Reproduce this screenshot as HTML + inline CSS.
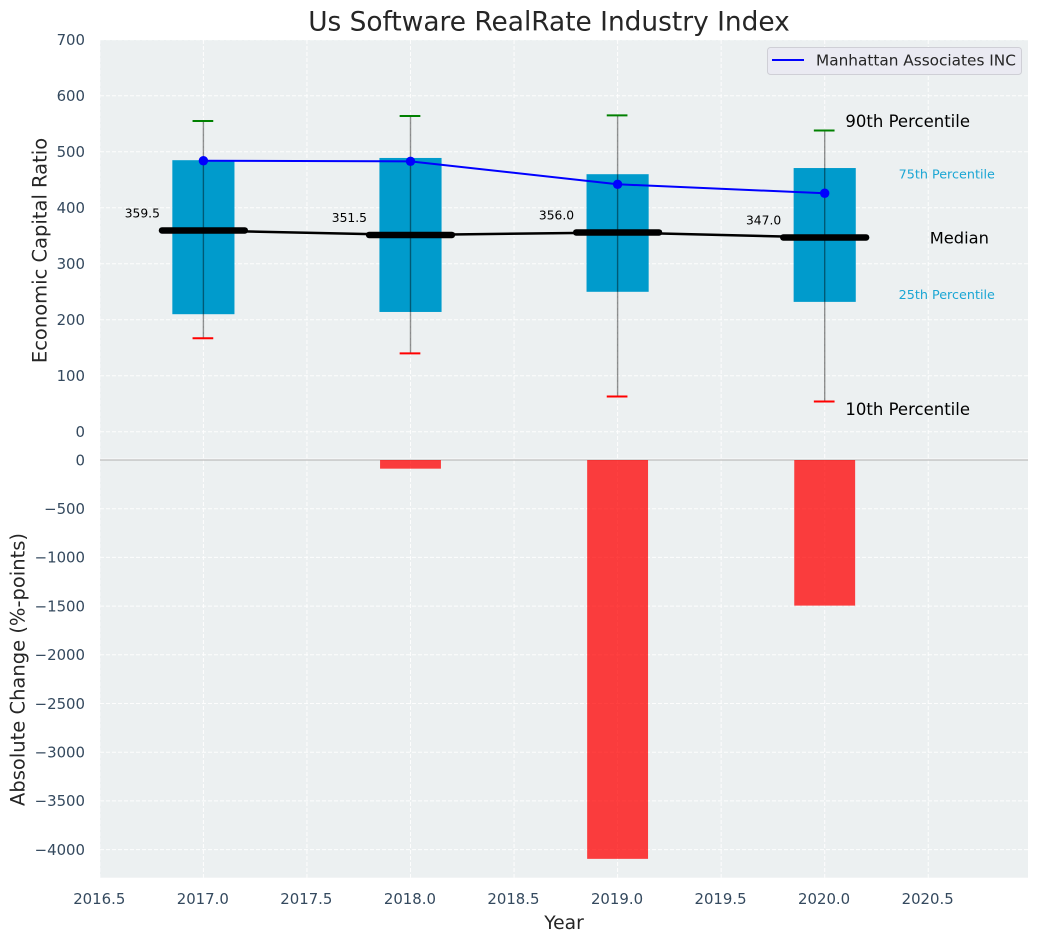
<!DOCTYPE html>
<html lang="en">
<head>
<meta charset="utf-8">
<title>Us Software RealRate Industry Index</title>
<style>
html,body{margin:0;padding:0;background:#fff;width:1039px;height:942px;overflow:hidden}
svg{display:block;font-family:"DejaVu Sans","Liberation Sans",sans-serif}
</style>
</head>
<body>
<svg id="chart" xmlns="http://www.w3.org/2000/svg" width="1039" height="942" viewBox="0 0 1039 942"></svg>
<script>
const years = [2017, 2018, 2019, 2020];
const p90 = [555, 564, 565, 538];
const p75 = [485, 489, 460, 471];
const medians = [359.5, 351.5, 356.0, 347.0];
const p25 = [210, 214, 250, 232];
const p10 = [167, 140, 63, 54];
const company = [484, 483, 442, 426];
const changes = [0, -89, -4095, -1495];
const xTicks = [2016.5, 2017, 2017.5, 2018, 2018.5, 2019, 2019.5, 2020, 2020.5];
const topTicks = [0, 100, 200, 300, 400, 500, 600, 700];
const bottomTicks = [0, -500, -1000, -1500, -2000, -2500, -3000, -3500, -4000];

const NS = 'http://www.w3.org/2000/svg';
const svg = document.getElementById('chart');
const x = v => 203.4 + (v - 2017) * 207.1;
const yTop = v => 431.8 - v * 0.56;
const yBot = v => 460 - v * 0.0974;
const L = 100, R = 1028, T = 40, B = 877.7;

function mk(tag, attrs, text) {
  const e = document.createElementNS(NS, tag);
  for (const k in attrs) e.setAttribute(k, attrs[k]);
  if (text !== undefined) e.textContent = text;
  svg.appendChild(e);
  return e;
}
const tickText = v => String(v).replace('-', '\u2212');
let el;

el = mk('rect', {x: L, y: T, width: R - L, height: B - T, fill: '#ecf0f1'});



xTicks.forEach(v => {
  el = mk('line', {x1: x(v), x2: x(v), y1: T, y2: B, stroke: '#fff', 'stroke-width': 1, 'stroke-dasharray': '4 2', opacity: 0.9});
  
  
  el = mk('text', {x: x(v) - 0.6, y: 904, 'text-anchor': 'middle', 'font-size': 14.9, fill: '#34495e'}, v.toFixed(1));
  
  
});
topTicks.forEach(v => {
  el = mk('line', {x1: L, x2: R, y1: yTop(v), y2: yTop(v), stroke: '#fff', 'stroke-width': 1, 'stroke-dasharray': '4 2', opacity: 0.9});
  
  
  el = mk('text', {x: 85, y: yTop(v) + 5.3, 'text-anchor': 'end', 'font-size': 14.9, fill: '#34495e'}, tickText(v));
  
  
});
bottomTicks.forEach(v => {
  el = mk('line', {x1: L, x2: R, y1: yBot(v), y2: yBot(v), stroke: '#fff', 'stroke-width': 1, 'stroke-dasharray': v === 0 ? 'none' : '4 2', opacity: 0.9, transform: v === 0 ? 'translate(0,-1)' : ''});
  
  
  el = mk('text', {x: 85, y: yBot(v) + 5.3, 'text-anchor': 'end', 'font-size': 14.9, fill: '#34495e'}, tickText(v));
  
  
});

years.forEach((yr, i) => {
  el = mk('rect', {x: x(yr - 0.15), y: yTop(p75[i]), width: x(yr + 0.15) - x(yr - 0.15), height: yTop(p25[i]) - yTop(p75[i]), fill: '#009bcc'});
  
  
  el = mk('line', {x1: x(yr), x2: x(yr), y1: yTop(p90[i]), y2: yTop(p10[i]), stroke: '#000', 'stroke-width': 1.4, opacity: 0.42});
  
  
  el = mk('line', {x1: x(yr - 0.05) - 0.5, x2: x(yr + 0.05) - 0.5, y1: yTop(p90[i]), y2: yTop(p90[i]), stroke: '#008000', 'stroke-width': 2});
  
  
  el = mk('line', {x1: x(yr - 0.05) - 0.5, x2: x(yr + 0.05) - 0.5, y1: yTop(p10[i]), y2: yTop(p10[i]), stroke: '#ff0000', 'stroke-width': 2});
  
  
});

el = mk('polyline', {points: years.map((yr, i) => x(yr) + ',' + yTop(medians[i])).join(' '), fill: 'none', stroke: '#000', 'stroke-width': 2.5});



years.forEach((yr, i) => {
  el = mk('line', {x1: x(yr - 0.2), x2: x(yr + 0.2), y1: yTop(medians[i]), y2: yTop(medians[i]), stroke: '#000', 'stroke-width': 6.5, 'stroke-linecap': 'round'});
  
  
  el = mk('text', {x: x(yr - 0.21), y: yTop(medians[i] + 30) + 4, 'text-anchor': 'end', 'font-size': 12.3, fill: '#000'}, medians[i].toFixed(1));
  
  
});

el = mk('polyline', {points: years.map((yr, i) => x(yr) + ',' + yTop(company[i])).join(' '), fill: 'none', stroke: '#0000ff', 'stroke-width': 2});


years.forEach((yr, i) => {
  el = mk('circle', {cx: x(yr), cy: yTop(company[i]), r: 4.7, fill: '#0000ff'});
  
  
});

el = mk('line', {x1: L, x2: R, y1: 460, y2: 460, stroke: '#bdbdbd', 'stroke-width': 1.2});



years.forEach((yr, i) => {
  if (changes[i] === 0) return;
  el = mk('rect', {x: x(yr - 0.147), y: yBot(0), width: x(yr + 0.147) - x(yr - 0.147), height: yBot(changes[i]) - yBot(0), fill: '#ff0000', opacity: 0.75});
  
  
});

const lastYear = years.length - 1;
el = mk('text', {x: x(2020.1), y: yTop(p90[lastYear] + 17) + 6, 'font-size': 16.5, fill: '#000'}, '90th Percentile');


el = mk('text', {x: x(2020.357), y: yTop(p75[lastYear] - 11) + 4.5, 'font-size': 12.75, fill: '#1ba6d4'}, '75th Percentile');


el = mk('text', {x: x(2020.507), y: yTop(medians[lastYear]) + 6, 'font-size': 16.3, fill: '#000'}, 'Median');


el = mk('text', {x: x(2020.357), y: yTop(p25[lastYear] + 13) + 4.5, 'font-size': 12.75, fill: '#1ba6d4'}, '25th Percentile');


el = mk('text', {x: x(2020.1), y: yTop(p10[lastYear] - 13) + 6, 'font-size': 16.5, fill: '#000'}, '10th Percentile');



el = mk('rect', {x: 767.5, y: 47.5, width: 254, height: 27, rx: 3, fill: '#eaeaf2', stroke: '#cfcfd6', 'stroke-width': 1});


el = mk('line', {x1: 772, x2: 804, y1: 60, y2: 60, stroke: '#0000ff', 'stroke-width': 2});


el = mk('text', {x: 816, y: 65.7, 'font-size': 15.3, fill: '#262626'}, 'Manhattan Associates INC');



el = mk('text', {x: 549, y: 30.3, 'text-anchor': 'middle', 'font-size': 26.4, fill: '#262626'}, 'Us Software RealRate Industry Index');


el = mk('text', {x: 564, y: 929, 'text-anchor': 'middle', 'font-size': 18.7, fill: '#262626'}, 'Year');


el = mk('text', {transform: 'translate(46.5,250.5) rotate(-90)', 'text-anchor': 'middle', 'font-size': 19.5, fill: '#262626'}, 'Economic Capital Ratio');


el = mk('text', {transform: 'translate(24.5,669.5) rotate(-90)', 'text-anchor': 'middle', 'font-size': 19.5, fill: '#262626'}, 'Absolute Change (%-points)');


</script>
</body>
</html>
